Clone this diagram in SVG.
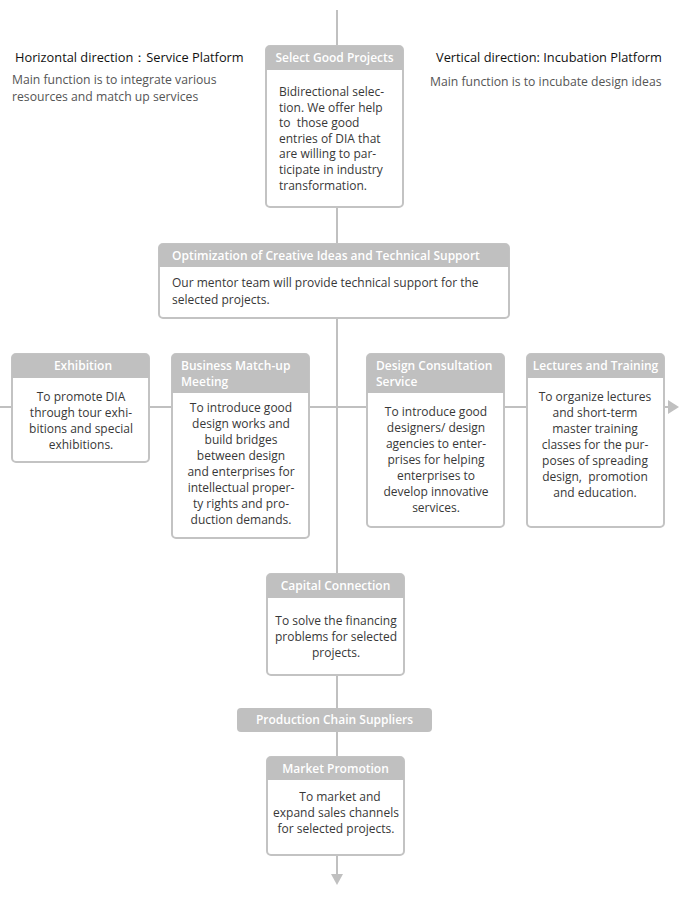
<svg xmlns="http://www.w3.org/2000/svg" width="684" height="899" viewBox="0 0 684 899">
<style>
.conn{stroke:#c0c0c0;stroke-width:2;fill:none}
.box{fill:#fff;stroke:#c3c3c3;stroke-width:2}
.hdr{fill:#c0c0c0}
.ht{font-family:"Open Sans","Noto Sans",sans-serif;font-size:12px;font-weight:600;fill:#fff}
.bt{font-family:"Open Sans","Noto Sans",sans-serif;font-size:12px;fill:#383838}
.c{text-anchor:middle}
.title{font-family:"Open Sans","Noto Sans",sans-serif;font-size:12.8px;fill:#111}
.sub{font-family:"Open Sans","Noto Sans",sans-serif;font-size:12.2px;fill:#555}
</style>
<rect width="684" height="899" fill="#fff"/>
<g id="connectors">
<line class="conn" x1="337" y1="10" x2="337" y2="874"/>
<line class="conn" x1="0" y1="407" x2="668" y2="407"/>
<polygon points="668,400 679,407 668,414" fill="#c0c0c0"/>
<polygon points="331,874 343,874 337,885" fill="#c0c0c0"/>
</g>
<g id="legend-left">
<text class="title" x="15" y="62">Horizontal direction：Service Platform</text>
<text class="sub" x="12" y="84">Main function is to integrate various</text>
<text class="sub" x="12" y="101">resources and match up services</text>
</g>
<g id="legend-right">
<text class="title" x="436" y="62">Vertical direction: Incubation Platform</text>
<text class="sub" x="430" y="86">Main function is to incubate design ideas</text>
</g>
<g id="select">
<rect class="box" x="266" y="46" width="137" height="161" rx="4"/>
<path class="hdr" d="M266,70 V50 a4,4 0 0 1 4,-4 H399 a4,4 0 0 1 4,4 V70 Z"/>
<text class="ht c" x="334.5" y="62">Select Good Projects</text>
<text class="bt" x="279" y="96">Bidirectional selec-</text>
<text class="bt" x="279" y="111.6">tion. We offer help</text>
<text class="bt" x="279" y="127.2" xml:space="preserve">to  those good</text>
<text class="bt" x="279" y="142.8">entries of DIA that</text>
<text class="bt" x="279" y="158.4">are willing to par-</text>
<text class="bt" x="279" y="174">ticipate in industry</text>
<text class="bt" x="279" y="189.6">transformation.</text>
</g>
<g id="optimization">
<rect class="box" x="159" y="244" width="350" height="74" rx="4"/>
<path class="hdr" d="M159,267 V248 a4,4 0 0 1 4,-4 H505 a4,4 0 0 1 4,4 V267 Z"/>
<text class="ht" x="172" y="260">Optimization of Creative Ideas and Technical Support</text>
<text class="bt" x="172" y="287">Our mentor team will provide technical support for the</text>
<text class="bt" x="172" y="303.5">selected projects.</text>
</g>
<g id="exhibition">
<rect class="box" x="12" y="354" width="137" height="108" rx="4"/>
<path class="hdr" d="M12,378 V358 a4,4 0 0 1 4,-4 H145 a4,4 0 0 1 4,4 V378 Z"/>
<text class="ht c" x="83" y="370">Exhibition</text>
<text class="bt c" x="81" y="401">To promote DIA</text>
<text class="bt c" x="81" y="417">through tour exhi-</text>
<text class="bt c" x="81" y="433">bitions and special</text>
<text class="bt c" x="81" y="449">exhibitions.</text>
</g>
<g id="business">
<rect class="box" x="172" y="354" width="137" height="184" rx="4"/>
<path class="hdr" d="M172,393 V358 a4,4 0 0 1 4,-4 H305 a4,4 0 0 1 4,4 V393 Z"/>
<text class="ht" x="181" y="370">Business Match-up</text>
<text class="ht" x="181" y="386">Meeting</text>
<text class="bt c" x="241" y="412">To introduce good</text>
<text class="bt c" x="241" y="428">design works and</text>
<text class="bt c" x="241" y="444">build bridges</text>
<text class="bt c" x="241" y="460">between design</text>
<text class="bt c" x="241" y="476">and enterprises for</text>
<text class="bt c" x="241" y="492">intellectual proper-</text>
<text class="bt c" x="241" y="508">ty rights and pro-</text>
<text class="bt c" x="241" y="524">duction demands.</text>
</g>
<g id="design">
<rect class="box" x="367" y="354" width="137" height="173" rx="4"/>
<path class="hdr" d="M367,393 V358 a4,4 0 0 1 4,-4 H500 a4,4 0 0 1 4,4 V393 Z"/>
<text class="ht" x="376" y="370">Design Consultation</text>
<text class="ht" x="376" y="386">Service</text>
<text class="bt c" x="436" y="416">To introduce good</text>
<text class="bt c" x="436" y="432">designers/ design</text>
<text class="bt c" x="436" y="448">agencies to enter-</text>
<text class="bt c" x="436" y="464">prises for helping</text>
<text class="bt c" x="436" y="480">enterprises to</text>
<text class="bt c" x="436" y="496">develop innovative</text>
<text class="bt c" x="436" y="512">services.</text>
</g>
<g id="lectures">
<rect class="box" x="527" y="354" width="137" height="173" rx="4"/>
<path class="hdr" d="M527,378 V358 a4,4 0 0 1 4,-4 H660 a4,4 0 0 1 4,4 V378 Z"/>
<text class="ht c" x="595.5" y="370">Lectures and Training</text>
<text class="bt c" x="595" y="401">To organize lectures</text>
<text class="bt c" x="595" y="417">and short-term</text>
<text class="bt c" x="595" y="433">master training</text>
<text class="bt c" x="595" y="449">classes for the pur-</text>
<text class="bt c" x="595" y="465">poses of spreading</text>
<text class="bt c" x="595" y="481" xml:space="preserve">design,  promotion</text>
<text class="bt c" x="595" y="497">and education.</text>
</g>
<g id="capital">
<rect class="box" x="267" y="574" width="137" height="101" rx="4"/>
<path class="hdr" d="M267,598 V578 a4,4 0 0 1 4,-4 H400 a4,4 0 0 1 4,4 V598 Z"/>
<text class="ht c" x="335.5" y="590">Capital Connection</text>
<text class="bt c" x="336" y="625">To solve the financing</text>
<text class="bt c" x="336" y="641">problems for selected</text>
<text class="bt c" x="336" y="657">projects.</text>
</g>
<g id="production">
<rect class="hdr" x="237" y="708" width="195" height="24" rx="4"/>
<text class="ht c" x="334.5" y="724">Production Chain Suppliers</text>
</g>
<g id="market">
<rect class="box" x="267" y="757" width="137" height="98" rx="4"/>
<path class="hdr" d="M267,780 V761 a4,4 0 0 1 4,-4 H400 a4,4 0 0 1 4,4 V780 Z"/>
<text class="ht c" x="335.5" y="773">Market Promotion</text>
<text class="bt c" x="340" y="801">To market and</text>
<text class="bt c" x="336" y="817">expand sales channels</text>
<text class="bt c" x="336" y="833">for selected projects.</text>
</g>
</svg>
